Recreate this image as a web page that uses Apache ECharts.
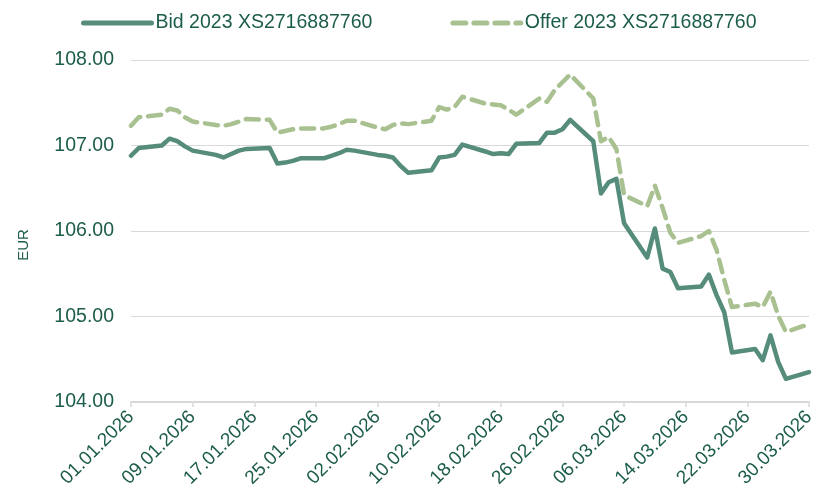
<!DOCTYPE html>
<html>
<head>
<meta charset="utf-8">
<script src="https://cdn.jsdelivr.net/npm/echarts@6.0.0/dist/echarts.min.js"></script>
<style>
  html, body { margin: 0; padding: 0; background: #fff; }
  #chart { width: 813px; height: 488px; }
</style>
</head>
<body>
<div id="chart"></div>
<script>
// trading days (DD.MM, 2026) and quoted prices in EUR
const tradeDays = [
  "01.01", "02.01", "05.01", "06.01", "07.01", "08.01", "09.01",
  "12.01", "13.01", "14.01", "15.01", "16.01",
  "19.01", "20.01", "21.01", "22.01", "23.01",
  "26.01", "27.01", "28.01", "29.01", "30.01",
  "02.02", "03.02", "04.02", "05.02", "06.02",
  "09.02", "10.02", "11.02", "12.02", "13.02",
  "16.02", "17.02", "18.02", "19.02", "20.02",
  "23.02", "24.02", "25.02", "26.02", "27.02",
  "02.03", "03.03", "04.03", "05.03", "06.03",
  "09.03", "10.03", "11.03", "12.03", "13.03",
  "16.03", "17.03", "18.03", "19.03", "20.03",
  "23.03", "24.03", "25.03", "26.03", "27.03",
  "30.03",
];
const bid = [
  106.88, 106.97, 107.00, 107.08, 107.05, 106.99, 106.94,
  106.89, 106.86, 106.90, 106.94, 106.96,
  106.97, 106.79, 106.80, 106.82, 106.85,
  106.85, 106.88, 106.91, 106.95, 106.94,
  106.89, 106.88, 106.86, 106.76, 106.68,
  106.71, 106.86, 106.87, 106.89, 107.01,
  106.93, 106.90, 106.91, 106.90, 107.02,
  107.03, 107.15, 107.15, 107.19, 107.30,
  107.05, 106.44, 106.57, 106.61, 106.09,
  105.69, 106.03, 105.56, 105.52, 105.33,
  105.35, 105.49, 105.25, 105.05, 104.58,
  104.62, 104.49, 104.78, 104.47, 104.27,
  104.35,
];
const offer = [
  107.23, 107.33, 107.36, 107.43, 107.41, 107.33, 107.28,
  107.24, 107.23, 107.25, 107.28, 107.31,
  107.30, 107.15, 107.17, 107.19, 107.20,
  107.20, 107.22, 107.25, 107.29, 107.29,
  107.21, 107.19, 107.24, 107.26, 107.25,
  107.29, 107.45, 107.42, 107.45, 107.57,
  107.49, 107.48, 107.47, 107.42, 107.36,
  107.55, 107.51, 107.65, 107.74, 107.83,
  107.55, 107.05, 107.10, 106.96, 106.42,
  106.29, 106.53, 106.27, 105.98, 105.86,
  105.94, 106.00, 105.78, 105.43, 105.11,
  105.15, 105.11, 105.29, 105.01, 104.82,
  104.91,
];
const seriesNames = ["Bid 2023 XS2716887760", "Offer 2023 XS2716887760"];
const yTicks = [104, 105, 106, 107, 108];

const textColor = "#1c5c4b";
const bidColor = "#558c7b";
const offerColor = "#a9c190";
const font = "Liberation Sans";

// calendar axis 01.01.2026 .. 30.03.2026, weekends left empty
const days = [];
for (let d = new Date(Date.UTC(2026, 0, 1)); d <= new Date(Date.UTC(2026, 2, 30)); d.setUTCDate(d.getUTCDate() + 1)) {
  const dd = String(d.getUTCDate()).padStart(2, "0");
  const mm = String(d.getUTCMonth() + 1).padStart(2, "0");
  days.push(`${dd}.${mm}`);
}
function onCalendar(vals) {
  const m = {};
  tradeDays.forEach((t, i) => { m[t] = vals[i]; });
  return days.map(d => (d in m ? m[d] : null));
}

const chart = echarts.init(document.getElementById("chart"), null, { renderer: "canvas" });
chart.setOption({
  animation: false,
  textStyle: { fontFamily: font },
  legend: {
    top: 8, left: 76, itemGap: 78, itemWidth: 68, itemHeight: 14,
    itemStyle: { opacity: 0 },
    lineStyle: { width: 5, cap: "round" },
    textStyle: { color: textColor, fontSize: 19.5, fontFamily: font, padding: [0, 0, 0, -1] },
    data: seriesNames,
  },
  grid: { left: 131, right: 4, top: 60, bottom: 86, containLabel: false, outerBoundsMode: "none" },
  xAxis: {
    type: "category", boundaryGap: false,
    data: days,
    axisLine: { lineStyle: { color: "#d9d9d9", width: 2 } },
    axisTick: { interval: 7, length: 5, lineStyle: { color: "#d9d9d9", width: 1.5 } },
    axisLabel: {
      interval: 7, rotate: 45, margin: 12, color: textColor, fontSize: 19, fontFamily: font,
      formatter: v => `${v}.2026`,
    },
    splitLine: { show: false },
  },
  yAxis: {
    type: "value", min: yTicks[0], max: yTicks[yTicks.length - 1], interval: 1,
    name: "EUR", nameLocation: "middle", nameGap: 100, nameRotate: 90,
    nameTextStyle: { color: textColor, fontSize: 15, fontFamily: font, padding: [0, 28, 0, 0] },
    axisLine: { show: false }, axisTick: { show: false },
    axisLabel: { color: textColor, fontSize: 19.5, fontFamily: font, margin: 17, formatter: v => v.toFixed(2) },
    splitLine: { lineStyle: { color: "#d9d9d9", width: 1 } },
  },
  series: [
    {
      name: seriesNames[0], type: "line", data: onCalendar(bid), connectNulls: true,
      symbol: "none", lineStyle: { color: bidColor, width: 4.5, cap: "round", join: "round" },
      itemStyle: { color: bidColor }, z: 3,
    },
    {
      name: seriesNames[1], type: "line", data: onCalendar(offer), connectNulls: true,
      symbol: "none", lineStyle: { color: offerColor, width: 4.5, type: [13, 8], cap: "round", join: "round" },
      itemStyle: { color: offerColor }, z: 2,
    },
  ],
});
</script>
</body>
</html>
